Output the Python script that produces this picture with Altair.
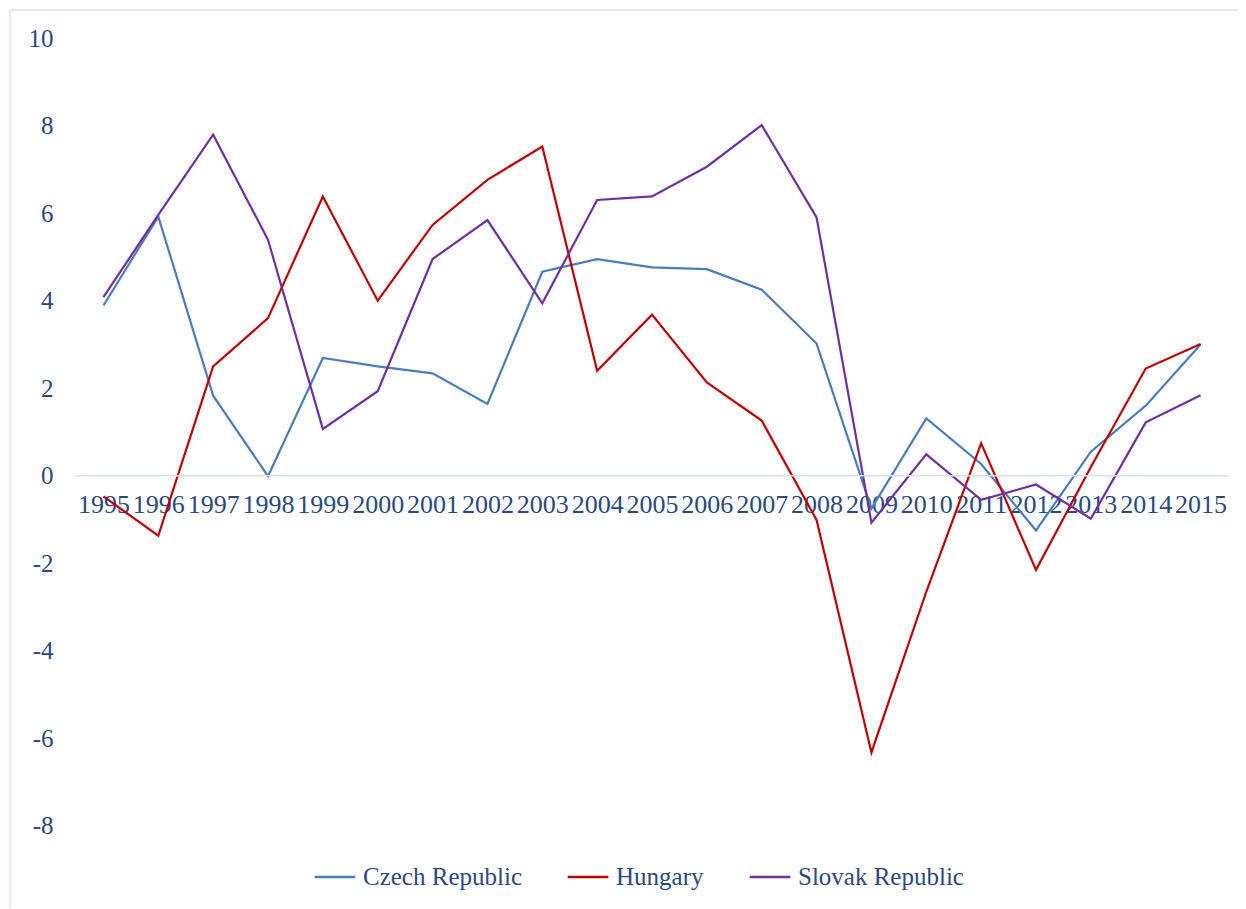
import altair as alt
import pandas as pd

years = [str(y) for y in range(1995, 2016)]
czech = [3.89, 5.92, 1.83, -0.01, 2.69, 2.50, 2.34, 1.64, 4.66, 4.95, 4.76, 4.72, 4.25, 3.02,
         -0.75, 1.31, 0.27, -1.25, 0.55, 1.60, 3.00]
hungary = [-0.47, -1.37, 2.50, 3.60, 6.38, 4.00, 5.73, 6.76, 7.52, 2.40, 3.68, 2.13, 1.26, -1.01,
           -6.32, -2.65, 0.74, -2.15, 0.20, 2.45, 3.01]
slovak = [4.08, 5.96, 7.79, 5.39, 1.07, 1.93, 4.95, 5.84, 3.94, 6.30, 6.38, 7.06, 8.01, 5.90,
          -1.07, 0.49, -0.55, -0.20, -0.98, 1.22, 1.84]
series_names = ["Czech Republic", "Hungary", "Slovak Republic"]
series_colors = ["#4A7EBB", "#C00000", "#7030A0"]

rows = []
for name, vals in zip(series_names, [czech, hungary, slovak]):
    for y, v in zip(years, vals):
        rows.append({"year": y, "value": v, "series": name})
df = pd.DataFrame(rows)

FONT = "Liberation Serif"
TXT = "#2A4A7F"
W, H = 1152, 858

x_enc = alt.X("year:O", sort=years,
              scale=alt.Scale(type="point", padding=0.5),
              axis=alt.Axis(title=None, labelAngle=0, domain=False, ticks=False, grid=False,
                            offset=-(H * 9.6 / 19.6), labelPadding=16, labelFontSize=26,
                            labelFont=FONT, labelColor=TXT, labelBaseline="top"))
y_enc = alt.Y("value:Q",
              scale=alt.Scale(domain=[-9.6, 10], nice=False, zero=False),
              axis=alt.Axis(title=None, values=[-8, -6, -4, -2, 0, 2, 4, 6, 8, 10],
                            labelExpr="'' + datum.value",
                            domain=False, ticks=False, grid=False, labelPadding=23,
                            labelFontSize=25, labelFont=FONT, labelColor=TXT))

lines = alt.Chart(df).mark_line(strokeWidth=2.2).encode(
    x=x_enc,
    y=y_enc,
    color=alt.Color("series:N",
                    scale=alt.Scale(domain=series_names, range=series_colors),
                    legend=alt.Legend(title=None, orient="none", legendX=237, legendY=817,
                                      direction="horizontal", symbolType="stroke",
                                      symbolSize=1650, symbolStrokeWidth=2.5,
                                      labelFont=FONT, labelFontSize=25, labelColor=TXT,
                                      labelOffset=6, columnPadding=40, labelLimit=400)),
    order=alt.Order("year:O"),
)

zero = alt.Chart(pd.DataFrame({"z": [0]})).mark_rule(color="#D6E2F1", strokeWidth=1.5).encode(
    y=alt.datum(0)
)

frame_df = pd.DataFrame({"k": [0]})
frame_left = alt.Chart(frame_df).mark_rule(color="#D6E2F1", strokeWidth=1.5).encode(
    x=alt.value(-66), y=alt.value(-28), y2=alt.value(900))
frame_top = alt.Chart(frame_df).mark_rule(color="#D6E2F1", strokeWidth=1.5).encode(
    x=alt.value(-66), x2=alt.value(1220), y=alt.value(-28))

chart = alt.layer(lines, zero, frame_left, frame_top).properties(
    width=W, height=H,
    padding={"left": 76, "top": 38, "right": 10, "bottom": 12},
    autosize=alt.AutoSizeParams(type="none"),
    background="white",
).configure_view(strokeWidth=0, stroke=None)

chart.save("out.html", embed_options={"renderer": "svg", "actions": False})
